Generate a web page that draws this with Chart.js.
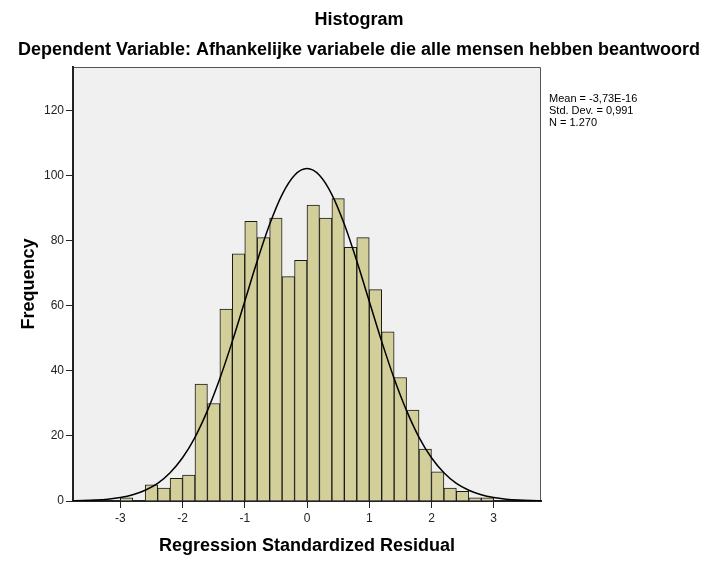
<!DOCTYPE html>
<html><head><meta charset="utf-8">
<script src="https://cdn.jsdelivr.net/npm/chart.js@4.4.1/dist/chart.umd.min.js"></script>
<style>html,body{margin:0;padding:0;background:#fff}#wrap{width:714px;height:561px;position:relative}</style>
</head><body><div id="wrap"><canvas id="c"></canvas></div>
<script>
// Histogram bins (centers of 0.2-wide bins) and frequencies
const binCenters = [-2.9,-2.7,-2.5,-2.3,-2.1,-1.9,-1.7,-1.5,-1.3,-1.1,-0.9,-0.7,-0.5,-0.3,-0.1,0.1,0.3,0.5,0.7,0.9,1.1,1.3,1.5,1.7,1.9,2.1,2.3,2.5,2.7,2.9];
const frequencies = [1,0,5,4,7,8,36,30,59,76,86,81,87,69,74,91,87,93,78,81,65,52,38,28,16,9,4,3,1,1];
// Normal curve points
const curveX = [-3.8,-3.6,-3.4,-3.2,-3.0,-2.8,-2.6,-2.4,-2.2,-2.0,-1.8,-1.6,-1.4,-1.2,-1.0,-0.8,-0.6,-0.4,-0.2,0,0.2,0.4,0.6,0.8,1.0,1.2,1.4,1.6,1.8,2.0,2.2,2.4,2.6,2.8,3.0,3.2,3.4,3.6,3.8];
const curveY = [0.07,0.14,0.28,0.56,1.05,1.9,3.3,5.4,8.7,13.3,19.6,27.8,37.7,49.1,61.45,73.8,85.1,94.25,100.2,102.25,100.2,94.25,85.1,73.8,61.45,49.1,37.7,27.8,19.6,13.3,8.7,5.4,3.3,1.9,1.05,0.56,0.28,0.14,0.07];
const chartTitle = 'Histogram';
const chartSubtitle = 'Dependent Variable: Afhankelijke variabele die alle mensen hebben beantwoord';
const xTitle = 'Regression Standardized Residual';
const yTitle = 'Frequency';
const statsLines = ['Mean = -3,73E-16', 'Std. Dev. = 0,991', 'N = 1.270'];

const FONT = '"Liberation Sans", Arial, Helvetica, sans-serif';

const plotBg = {
  id: 'plotBg',
  beforeDraw(chart) {
    const {ctx, chartArea: a} = chart;
    ctx.save();
    ctx.fillStyle = '#f0f0f0';
    ctx.fillRect(a.left, a.top, a.right - a.left, a.bottom - a.top);
    ctx.strokeStyle = '#555';
    ctx.lineWidth = 1;
    ctx.beginPath();
    ctx.moveTo(a.left, a.top + 0.5);
    ctx.lineTo(a.right - 0.5, a.top + 0.5);
    ctx.lineTo(a.right - 0.5, a.bottom);
    ctx.stroke();
    ctx.restore();
  },
  afterDraw(chart) {
    const {ctx, chartArea: a, width} = chart;
    ctx.save();
    ctx.fillStyle = '#000';
    ctx.textBaseline = 'alphabetic';
    ctx.textAlign = 'center';
    ctx.font = 'bold 18px ' + FONT;
    ctx.fillText(chartTitle, width / 2 + 2, 25);
    ctx.fillText(chartSubtitle, width / 2 + 2, 55);
    ctx.font = '11px ' + FONT;
    ctx.textAlign = 'left';
    statsLines.forEach((t, i) => ctx.fillText(t, a.right + 8, 102 + i * 12));
    ctx.restore();
  }
};

new Chart(document.getElementById('c'), {
  data: {
    datasets: [
      {
        type: 'line',
        data: curveX.map((x, i) => ({x, y: curveY[i]})),
        borderColor: '#000',
        borderWidth: 1.5,
        pointRadius: 0,
        cubicInterpolationMode: 'monotone',
        fill: false,
        order: 0
      },
      {
        type: 'bar',
        data: binCenters.map((x, i) => ({x, y: frequencies[i]})),
        backgroundColor: '#d3cf9a',
        borderColor: '#1a1a1a',
        borderWidth: 1,
        borderSkipped: 'start',
        barPercentage: 1,
        categoryPercentage: 1,
        order: 1
      }
    ]
  },
  options: {
    responsive: true,
    maintainAspectRatio: false,
    animation: false,
    devicePixelRatio: 1,
    layout: {padding: {left: 0, right: 173, top: 67, bottom: 0}},
    plugins: {
      legend: {display: false},
      tooltip: {enabled: false},
      title: {display: false},
      subtitle: {display: false}
    },
    scales: {
      x: {
        type: 'linear',
        offset: false,
        min: -3.76,
        max: 3.76,
        afterFit(s) { s.height = 60; },
        ticks: {stepSize: 1, includeBounds: false, autoSkip: false, maxRotation: 0, color: '#222', font: {family: FONT, size: 12}, padding: 3},
        grid: {offset: false, drawOnChartArea: false, drawTicks: true, tickLength: 7, color: '#222', lineWidth: 1},
        border: {display: true, color: '#222', width: 2},
        title: {display: true, text: xTitle, color: '#000', font: {family: FONT, size: 18, weight: 'bold'}, padding: {top: 0, bottom: 4}}
      },
      y: {
        type: 'linear',
        min: 0,
        max: 133.5,
        afterFit(s) { s.width = 73; },
        ticks: {stepSize: 20, includeBounds: false, color: '#222', font: {family: FONT, size: 12}, padding: 2},
        grid: {drawOnChartArea: false, drawTicks: true, tickLength: 7, color: '#222', lineWidth: 1},
        border: {display: true, color: '#222', width: 2},
        title: {display: true, text: yTitle, color: '#000', font: {family: FONT, size: 18, weight: 'bold'}, padding: {top: 18, bottom: 0}}
      }
    }
  },
  plugins: [plotBg]
});
</script>
</body></html>
